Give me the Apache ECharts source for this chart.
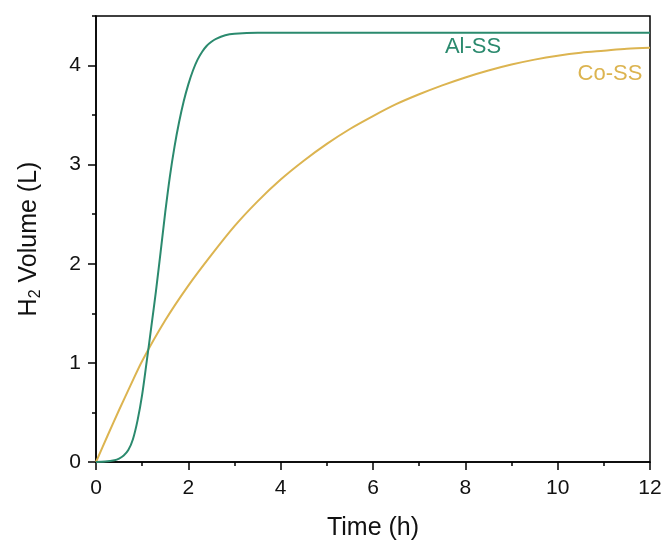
<!DOCTYPE html>
<html>
<head>
<meta charset="utf-8">
<script src="https://cdn.jsdelivr.net/npm/echarts@6/dist/echarts.min.js"></script>
<style>html,body{margin:0;padding:0;background:#fff}#c{width:665px;height:544px}</style>
</head>
<body>
<div id="c"></div>
<script>
// Time (h) and H2 volume (L)
const alTime = [0, 0.2, 0.4, 0.5, 0.6, 0.7, 0.8, 0.9, 1.0, 1.1, 1.2, 1.3, 1.4, 1.5, 1.6, 1.7, 1.8, 1.9, 2.0, 2.1, 2.2, 2.3, 2.4, 2.5, 2.6, 2.8, 3.0, 3.5, 4, 6, 8, 10, 12];
const alVol  = [0, 0.004, 0.018, 0.035, 0.065, 0.12, 0.23, 0.42, 0.68, 1.02, 1.37, 1.73, 2.12, 2.52, 2.88, 3.18, 3.43, 3.64, 3.81, 3.95, 4.06, 4.14, 4.2, 4.24, 4.27, 4.305, 4.32, 4.33, 4.33, 4.33, 4.33, 4.33, 4.33];
const coTime = [0, 0.25, 0.5, 0.75, 1, 1.5, 2, 2.5, 3, 3.5, 4, 4.5, 5, 5.5, 6, 6.5, 7, 7.5, 8, 8.5, 9, 9.5, 10, 10.5, 11, 11.5, 12];
const coVol  = [0, 0.265, 0.525, 0.775, 1.02, 1.43, 1.78, 2.09, 2.38, 2.63, 2.85, 3.04, 3.21, 3.36, 3.49, 3.61, 3.71, 3.8, 3.88, 3.95, 4.01, 4.06, 4.1, 4.13, 4.15, 4.17, 4.18];
const xTicks = [0, 2, 4, 6, 8, 10, 12];
const yTicks = [0, 1, 2, 3, 4];
const seriesNames = ['Al-SS', 'Co-SS'];

const green = '#2b8a6e';
const yellow = '#dcb450';
const font = 'Liberation Sans, Arial, sans-serif';

const chart = echarts.init(document.getElementById('c'), null, {renderer: 'canvas'});
const pair = (xs, ys) => xs.map((x, i) => [x, ys[i]]);

chart.setOption({
  backgroundColor: '#fff',
  animation: false,
  grid: {left: 96, top: 16, right: 15, bottom: 82, show: true, borderColor: '#000', borderWidth: 1.5,
    containLabel: false, outerBoundsMode: 'none'},
  xAxis: [{
    type: 'value', min: 0, max: 12, interval: 2,
    name: 'Time (h)', nameLocation: 'middle', nameGap: 54,
    nameTextStyle: {fontFamily: font, fontSize: 25, color: '#111'},
    axisLine: {show: true, onZero: false, lineStyle: {color: '#000', width: 1.5}},
    axisTick: {show: true, inside: false, length: 8, lineStyle: {color: '#000', width: 1.5}},
    minorTick: {show: true, splitNumber: 2, length: 4, lineStyle: {color: '#000', width: 1.5}},
    axisLabel: {fontFamily: font, fontSize: 21, color: '#111', margin: 16,
      customValues: xTicks},
    splitLine: {show: false}, minorSplitLine: {show: false}
  }],
  yAxis: [{
    type: 'value', min: 0, max: 4.5, interval: 0.5,
    name: '{a|H}{b|2}{a| Volume (L)}', nameLocation: 'middle', nameGap: 52, nameRotate: 90,
    nameTextStyle: {fontFamily: font, color: '#111',
      rich: {
        a: {fontFamily: font, fontSize: 25, color: '#111', lineHeight: 30},
        b: {fontFamily: font, fontSize: 16, color: '#111', lineHeight: 30, verticalAlign: 'bottom', padding: [12, 0, 0, 0]}
      }},
    axisLine: {show: true, onZero: false, lineStyle: {color: '#000', width: 1.5}},
    axisTick: {show: true, inside: false, length: 4, lineStyle: {color: '#000', width: 1.5}},
    axisLabel: {fontFamily: font, fontSize: 21, color: '#111', margin: 15,
      customValues: yTicks},
    splitLine: {show: false}
  }, {
    type: 'value', min: 0, max: 4.5, position: 'left', offset: 0,
    axisLine: {show: false},
    axisTick: {show: true, inside: false, length: 8, customValues: yTicks, lineStyle: {color: '#000', width: 1.5}},
    axisLabel: {show: false},
    splitLine: {show: false}
  }],
  series: [{
    name: seriesNames[0], type: 'line', data: pair(alTime, alVol),
    showSymbol: false, smooth: 0.3,
    lineStyle: {color: green, width: 2}, itemStyle: {color: green}, z: 3
  }, {
    name: seriesNames[1], type: 'line', data: pair(coTime, coVol),
    showSymbol: false, smooth: 0.3,
    lineStyle: {color: yellow, width: 2}, itemStyle: {color: yellow}, z: 2
  }],
  graphic: [
    {type: 'text', x: 473, y: 47, style: {text: seriesNames[0], font: '22px ' + font, fill: green, align: 'center', verticalAlign: 'middle'}},
    {type: 'text', x: 610, y: 74, style: {text: seriesNames[1], font: '22px ' + font, fill: yellow, align: 'center', verticalAlign: 'middle'}}
  ]
});
</script>
</body>
</html>
